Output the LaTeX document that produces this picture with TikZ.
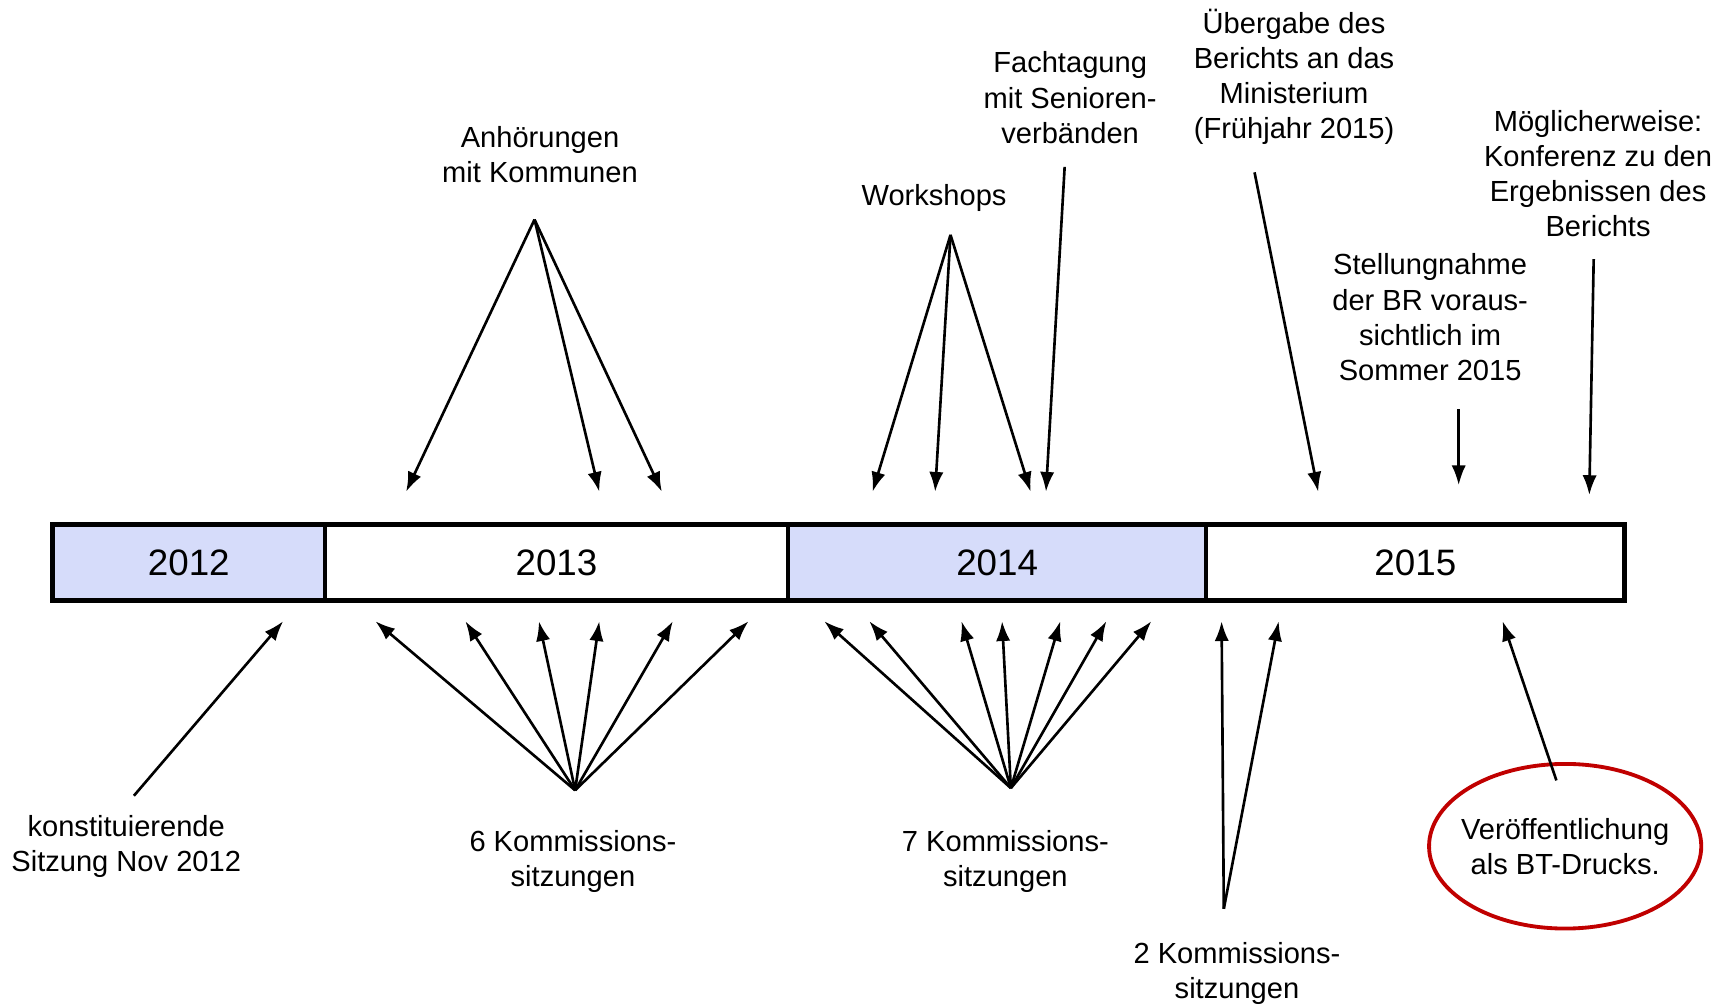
\documentclass[tikz,border=0pt]{standalone}
\usepackage{fontspec}
\setmainfont{Liberation Sans}
\usetikzlibrary{arrows.meta, positioning, shapes.geometric}
\definecolor{yearblue}{RGB}{214,220,250}
\definecolor{markred}{RGB}{192,0,0}

\begin{document}
\begin{tikzpicture}[x=1pt,y=-1pt,
  arr/.style={-{Latex[length=18pt,width=13pt]},line width=2.4pt},
  lbl/.style={align=center,inner sep=0pt,font=\fontsize{26.5}{32}\selectfont},
  year/.style={draw,line width=4pt,outer sep=0pt,inner sep=0pt,minimum height=69pt,
    font=\fontsize{33.5}{40}\selectfont}]
  \useasboundingbox (0,0) rectangle (1568,916);

  % time bar
  \node[year,fill=yearblue,minimum width=248pt] (y2012) at (172,512.5) {2012};
  \node[year,minimum width=422pt]               (y2013) [right=0pt of y2012] {2013};
  \node[year,fill=yearblue,minimum width=381pt] (y2014) [right=0pt of y2013] {2014};
  \node[year,minimum width=381pt]               (y2015) [right=0pt of y2014] {2015};

  % labels above
  \node[lbl] (anh)    at (492,141)  {Anhörungen\\mit Kommunen};
  \node[lbl] (work)   at (851,180)  {Workshops};
  \node[lbl] (facht)  at (975,89)   {Fachtagung\\mit Senioren-\\verbänden};
  \node[lbl] (ueberg) at (1179,70)  {Übergabe des\\Berichts an das\\Ministerium\\(Frühjahr 2015)};
  \node[lbl] (stell)  at (1303,289) {Stellungnahme\\der BR voraus-\\sichtlich im\\Sommer 2015};
  \node[lbl] (moegl)  at (1456,158) {Möglicherweise:\\Konferenz zu den\\Ergebnissen des\\Berichts};

  % labels below
  \node[lbl] (konst) at (115,771)  {konstituierende\\Sitzung Nov 2012};
  \node[lbl] (ks6)   at (522,785)  {6 Kommissions-\\sitzungen};
  \node[lbl] (ks7)   at (916,785)  {7 Kommissions-\\sitzungen};
  \node[lbl] (ks2)   at (1127,887) {2 Kommissions-\\sitzungen};
  \node[lbl,ellipse,draw=markred,line width=3.5pt,inner xsep=-13pt,
    minimum width=248pt,minimum height=150pt]
    (veroeff) at (1426,771) {Veröffentlichung\\als BT-Drucks.};

  % arrow ends
  \coordinate (anh_src)    at (487,200);
  \coordinate (work_src)   at (866,214);
  \coordinate (facht_src)  at (970,152);
  \coordinate (ueberg_src) at (1143,157);
  \coordinate (stell_src)  at (1329,373);
  \coordinate (moegl_src)  at (1452,236);
  \coordinate (konst_src)  at (122,725);
  \coordinate (ks6_src)    at (524,720);
  \coordinate (ks7_src)    at (921,718);
  \coordinate (ks2_src)    at (1115,828);
  \coordinate (veroeff_src) at (1418,711);

  \foreach \x [count=\i] in {370,546,603}
    \coordinate (anh_t\i) at (\x,448);
  \foreach \x [count=\i] in {795,852,939}
    \coordinate (work_t\i) at (\x,448);
  \foreach \x [count=\i] in {342,424,491,546,613,682}
    \coordinate (ks6_t\i) at (\x,566);
  \foreach \x [count=\i] in {751,792,876,913,966,1008,1049}
    \coordinate (ks7_t\i) at (\x,566);
  \foreach \x [count=\i] in {1113,1165}
    \coordinate (ks2_t\i) at (\x,566);
  \coordinate (facht_t)   at (953,448);
  \coordinate (ueberg_t)  at (1201,448);
  \coordinate (stell_t)   at (1329,442);
  \coordinate (moegl_t)   at (1448,451);
  \coordinate (konst_t)   at (258,566);
  \coordinate (veroeff_t) at (1369,566);

  % arrows
  \foreach \i in {1,2,3} \draw[arr] (anh_src) -- (anh_t\i);
  \foreach \i in {1,2,3} \draw[arr] (work_src) -- (work_t\i);
  \foreach \i in {1,...,6} \draw[arr] (ks6_src) -- (ks6_t\i);
  \foreach \i in {1,...,7} \draw[arr] (ks7_src) -- (ks7_t\i);
  \foreach \i in {1,2} \draw[arr] (ks2_src) -- (ks2_t\i);
  \draw[arr] (facht_src)   -- (facht_t);
  \draw[arr] (ueberg_src)  -- (ueberg_t);
  \draw[arr] (stell_src)   -- (stell_t);
  \draw[arr] (moegl_src)   -- (moegl_t);
  \draw[arr] (konst_src)   -- (konst_t);
  \draw[arr] (veroeff_src) -- (veroeff_t);
\end{tikzpicture}
\end{document}
